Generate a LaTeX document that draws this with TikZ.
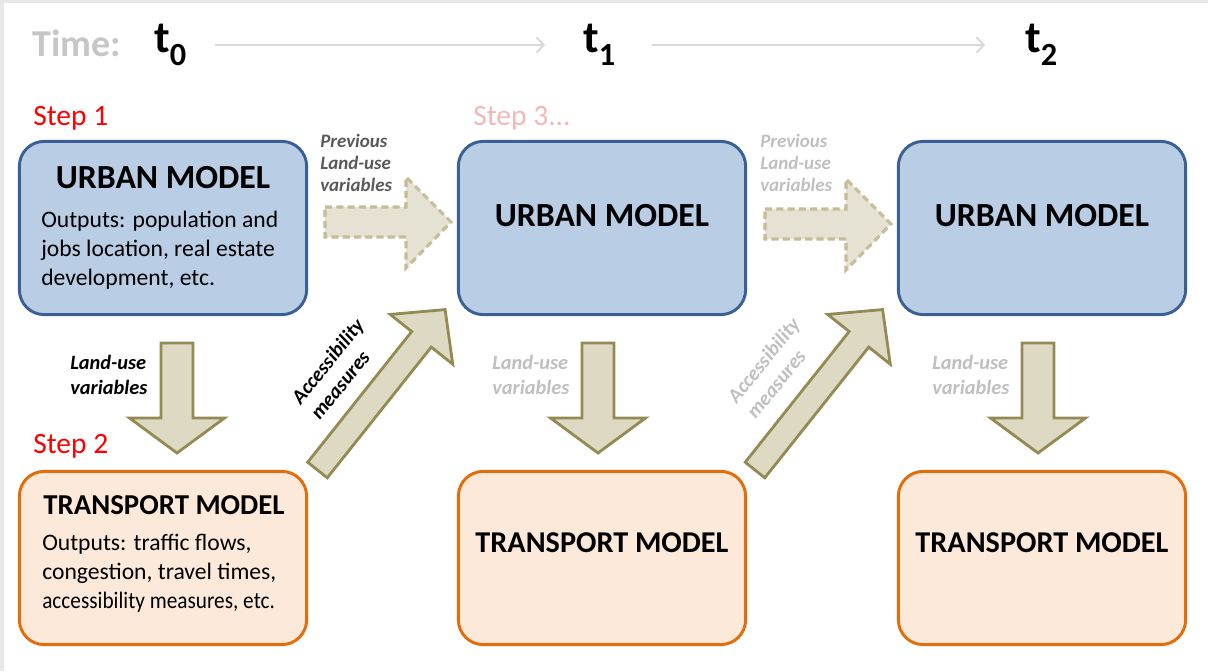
\documentclass[tikz,border=0pt]{standalone}
\usepackage{fontspec}
\setmainfont{Carlito}
\usetikzlibrary{arrows.meta}

\definecolor{urbanfill}{HTML}{B9CDE5}
\definecolor{urbanline}{HTML}{3A6096}
\definecolor{transfill}{HTML}{FCE9DA}
\definecolor{transline}{HTML}{E46C0A}
\definecolor{arrowfill}{HTML}{DDD9C3}
\definecolor{arrowline}{HTML}{948A54}
\definecolor{dashfill}{HTML}{E5E2D3}
\definecolor{dashline}{HTML}{C4BD97}
\definecolor{fadetext}{HTML}{BFBFBF}
\definecolor{steppink}{HTML}{F2B8B8}

\tikzset{
  urban/.style={draw=urbanline, fill=urbanfill, line width=2.1pt, rounded corners=0.62cm, minimum width=7.18cm, minimum height=4.33cm},
  transport/.style={draw=transline, fill=transfill, line width=2.1pt, rounded corners=0.62cm, minimum width=7.18cm, minimum height=4.33cm},
  blockarrow/.style={draw=arrowline, fill=arrowfill, line width=2pt},
  dasharrow/.style={draw=dashline, fill=dashfill, line width=2.2pt, dash pattern=on 5pt off 3pt},
  title/.style={inner sep=0pt, font=\bfseries\fontsize{24}{28}\selectfont},
  outputs/.style={inner sep=0pt, anchor=west, align=left, font=\fontsize{16.8}{20.5}\selectfont},
  flowlabel/.style={inner sep=0pt, align=left, font=\bfseries\itshape\fontsize{14.5}{17.5}\selectfont},
  prevlabel/.style={inner sep=0pt, anchor=west, align=left, font=\bfseries\itshape\fontsize{13.5}{15.6}\selectfont},
  steplabel/.style={inner sep=0pt, anchor=base west, font=\fontsize{21}{25}\selectfont},
  timearrow/.style={draw=gray!30, line width=1.4pt, -{Straight Barb[length=5pt,width=11pt]}}
}

\begin{document}
\begin{tikzpicture}[x=0.025cm, y=-0.025cm]
\useasboundingbox (0,0) rectangle (1208,671);
\fill[gray!18] (0,0) rectangle (1208,3);
\fill[gray!18] (0,0) rectangle (4,671);

% time axis
\node[inner sep=0pt, anchor=base west, text=gray!45, font=\bfseries\fontsize{27}{30}\selectfont] (time) at (32,56) {Time:};
\foreach \i/\x in {0/154,1/583,2/1025}
{
  \node[inner sep=0pt, anchor=west, font=\bfseries\fontsize{32}{36}\selectfont] (t\i) at (\x,45) {t\raisebox{-0.28em}{\fontsize{23}{26}\selectfont\i}};
}
\draw[timearrow, shorten <=0.7cm, shorten >=0.95cm] (t0) -- (t1);
\draw[timearrow, shorten <=0.9cm, shorten >=1cm] (t1) -- (t2);

\node[steplabel, text=red] (step1) at (33,125) {Step 1};
\node[steplabel, text=red] (step2) at (33,453) {Step 2};
\node[steplabel, text=steppink] (step3) at (473,125) {Step 3...};

% block arrows
\foreach \x in {177,598,1038}
{
  \draw[blockarrow] (\x-16,343) -- (\x+16,343) -- (\x+16,418) -- (\x+47.5,418) -- (\x,453) -- (\x-47.5,418) -- (\x-16,418) -- cycle;
}
\foreach \x/\y in {325/207,765/209}
{
  \draw[dasharrow] (\x,\y) -- (\x+81,\y) -- (\x+81,\y-30) -- (\x+126,\y+15) -- (\x+81,\y+61) -- (\x+81,\y+30) -- (\x,\y+30) -- cycle;
}
\foreach \x in {317.5,755}
{
  \draw[blockarrow, shift={(\x,470)}, rotate=51.5] (0,-12.5) -- (167,-12.5) -- (167,-40) -- (205,0) -- (167,40) -- (167,12.5) -- (0,12.5) -- cycle;
}

% first column
\node[urban] (urban1) at (163,228) {};
\node[title] (urbantitle1) at (163,178) {URBAN MODEL};
\node[outputs] (urbanout1) at (41,250) {Outputs: population and\\jobs location, real estate\\development, etc.};
\node[transport] (transport1) at (163,558) {};
\node[title, font=\bfseries\fontsize{20.5}{24}\selectfont] (transtitle1) at (164,505) {TRANSPORT MODEL};
\node[outputs] (transout1) at (42,573) {Outputs: traffic flows,\\congestion, travel times,\\\scalebox{0.9}[1]{accessibility measures, etc.}};

% later columns
\foreach \i/\x in {2/602,3/1042}
{
  \node[urban] (urban\i) at (\x,228) {};
  \node[title] (urbantitle\i) at (\x,216) {URBAN MODEL};
  \node[transport] (transport\i) at (\x,558) {};
  \node[title, font=\bfseries\fontsize{21.5}{25}\selectfont] (transtitle\i) at (\x,543) {TRANSPORT MODEL};
}

\node[flowlabel, anchor=west] (landuse1) at (70,375) {Land-use\\variables};
\node[flowlabel, anchor=west, text=fadetext] (landuse2) at (492,375) {Land-use\\variables};
\node[flowlabel, anchor=west, text=fadetext] (landuse3) at (932,375) {Land-use\\variables};
\node[prevlabel, text=black!65] (previous1) at (320,163) {Previous\\Land-use\\variables};
\node[prevlabel, text=fadetext] (previous2) at (760,163) {Previous\\Land-use\\variables};
\node[flowlabel, rotate=51] (access1) at (337,369) {Accessibility\\measures};
\node[flowlabel, rotate=51, text=fadetext] (access2) at (773,368) {Accessibility\\measures};

\end{tikzpicture}
\end{document}
